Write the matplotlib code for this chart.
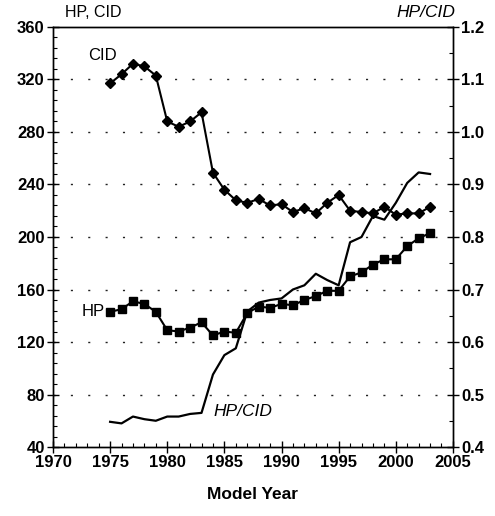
import matplotlib
matplotlib.use("Agg")
import matplotlib.pyplot as plt
from matplotlib.ticker import MultipleLocator

years = list(range(1975, 2004))
cid = [317, 324, 332, 330, 323, 288, 284, 288, 295, 249, 236, 228, 226, 229, 224,
       225, 219, 222, 218, 226, 232, 220, 219, 218, 223, 217, 218, 218, 223]
hp = [143, 145, 151, 149, 143, 129, 128, 131, 135, 125, 128, 127, 142, 147, 146,
      149, 148, 152, 155, 159, 159, 170, 173, 179, 183, 183, 193, 199, 203]
hp_cid = [0.448, 0.445, 0.458, 0.453, 0.450, 0.458, 0.458, 0.463, 0.465, 0.538,
          0.575, 0.588, 0.658, 0.675, 0.680, 0.683, 0.700, 0.708, 0.730, 0.718,
          0.708, 0.790, 0.800, 0.840, 0.833, 0.865, 0.903, 0.923, 0.920]
left_ticks = [40, 80, 120, 160, 200, 240, 280, 320, 360]
right_ticks = [0.4, 0.5, 0.6, 0.7, 0.8, 0.9, 1.0, 1.1, 1.2]
x_ticks = [1970, 1975, 1980, 1985, 1990, 1995, 2000, 2005]

plt.rcParams['font.family'] = ['Liberation Sans', 'DejaVu Sans']

fig = plt.figure(figsize=(4.95, 5.16), dpi=100)
ax = fig.add_axes([0.107, 0.1337, 0.808, 0.814])
ax2 = ax.twinx()

ax.set_xlim(1970, 2005)
ax.set_ylim(40, 360)
ax2.set_ylim(0.4, 1.2)

for y in left_ticks[1:-1]:
    ax.axhline(y, color='#222222', lw=1.0, linestyle=(0, (1.5, 11)), zorder=0)

ax.plot(years, cid, color='black', lw=1.5, marker='D', ms=5, zorder=3)
ax.plot(years, hp, color='black', lw=1.5, marker='s', ms=6, zorder=3)
ax2.plot(years, hp_cid, color='black', lw=1.6, zorder=3)

ax.set_xticks(x_ticks)
ax.set_yticks(left_ticks)
ax2.set_yticks(right_ticks)
ax2.set_yticklabels([f"{v:.1f}" for v in right_ticks])
ax.xaxis.set_minor_locator(MultipleLocator(1))
ax.yaxis.set_minor_locator(MultipleLocator(8))
ax2.yaxis.set_minor_locator(MultipleLocator(0.05))

ax.tick_params(axis='both', which='major', direction='inout', length=8, width=1,
               labelsize=12, pad=2)
ax.tick_params(axis='both', which='minor', direction='in', length=3, width=0.8)
ax2.tick_params(axis='y', which='major', direction='inout', length=8, width=1,
                labelsize=12, pad=2)
ax2.tick_params(axis='y', which='minor', direction='in', length=3, width=0.8)
ax.tick_params(axis='x', top=False, which='both')
ax.tick_params(axis='y', right=False, which='both')

for lab in ax.get_xticklabels() + ax.get_yticklabels() + ax2.get_yticklabels():
    lab.set_fontweight('bold')

for a in (ax, ax2):
    for s in a.spines.values():
        s.set_linewidth(1.0)

ax.set_xlabel('Model Year', fontsize=12.5, fontweight='bold', labelpad=12)

fig.text(0.131, 0.975, 'HP, CID', fontsize=11.5, ha='left', va='center')
fig.text(0.919, 0.975, 'HP/CID', fontsize=12.5, ha='right', va='center', style='italic')

ax.text(1974.3, 338, 'CID', fontsize=12, ha='center', va='center')
ax.text(1974.5, 143, 'HP', fontsize=12, ha='right', va='center')
ax2.text(1986.6, 0.468, 'HP/CID', fontsize=12.5, ha='center', va='center', style='italic')

fig.savefig('out.png', dpi=100)
